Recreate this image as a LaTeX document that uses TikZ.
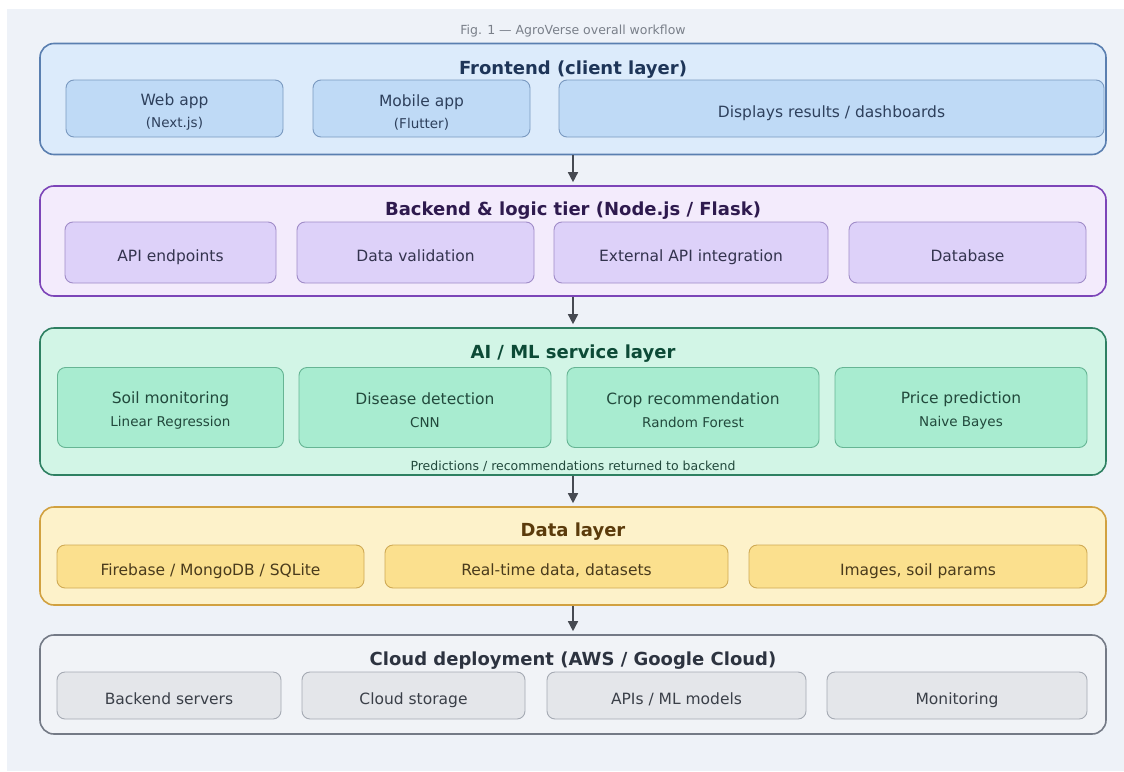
\documentclass[tikz,border=0pt]{standalone}
\usepackage{fontspec}
\setmainfont{DejaVu Sans}
\usetikzlibrary{arrows.meta}

% palette
\definecolor{pagebg}{HTML}{EEF2F8}
\definecolor{capgray}{HTML}{7A808A}
\definecolor{flowgray}{HTML}{464A52}
% frontend
\definecolor{feFill}{HTML}{DCEBFB}\definecolor{feLine}{HTML}{5A7FB0}
\definecolor{feBox}{HTML}{BFDAF6}\definecolor{feBoxLine}{HTML}{7A99C0}
\definecolor{feHead}{HTML}{1E3558}\definecolor{feText}{HTML}{2E405C}
% backend
\definecolor{beFill}{HTML}{F3EBFC}\definecolor{beLine}{HTML}{7C45B8}
\definecolor{beBox}{HTML}{DDD1F9}\definecolor{beBoxLine}{HTML}{A08CC8}
\definecolor{beHead}{HTML}{2E1A4E}\definecolor{beText}{HTML}{33334E}
% AI / ML
\definecolor{aiFill}{HTML}{D2F5E6}\definecolor{aiLine}{HTML}{2E8062}
\definecolor{aiBox}{HTML}{A8ECD0}\definecolor{aiBoxLine}{HTML}{66B594}
\definecolor{aiHead}{HTML}{0C4A36}\definecolor{aiText}{HTML}{22493C}
% data
\definecolor{dtFill}{HTML}{FDF2CA}\definecolor{dtLine}{HTML}{D1A140}
\definecolor{dtBox}{HTML}{FBE08E}\definecolor{dtBoxLine}{HTML}{CFAA55}
\definecolor{dtHead}{HTML}{5B3B0B}\definecolor{dtText}{HTML}{4A3B1C}
% cloud
\definecolor{clFill}{HTML}{F1F3F7}\definecolor{clLine}{HTML}{747A86}
\definecolor{clBox}{HTML}{E4E6EA}\definecolor{clBoxLine}{HTML}{A5AAB3}
\definecolor{clHead}{HTML}{2D3340}\definecolor{clText}{HTML}{3A3F48}

% two-line box text: a title line over a smaller detail line
% (#1 = strut height that sets the block's vertical placement, #2 = gap)
\newcommand\twolines[4]{\rule{0pt}{#1}#3\\[#2]{\fontsize{13.5}{16}\selectfont #4}}

\tikzset{
  layer/.style 2 args={draw=#1, fill=#2, rounded corners=14pt,
    line width=1.6pt, inner sep=0pt},
  part/.style n args={3}{draw=#1, fill=#2, text=#3, rounded corners=8pt,
    line width=0.9pt, inner sep=0pt, align=center,
    font=\fontsize{15.5}{18}\selectfont},
  oneline/.style={text height=17pt, text depth=0pt},
  heading/.style={font=\bfseries\fontsize{18}{21}\selectfont, text=#1,
    inner sep=0pt, text height=13.5pt, text depth=4pt},
  feBoxS/.style={part={feBoxLine}{feBox}{feText}, minimum height=57pt},
  beBoxS/.style={part={beBoxLine}{beBox}{beText}, minimum height=61pt, oneline},
  aiBoxS/.style={part={aiBoxLine}{aiBox}{aiText}, minimum height=80pt},
  dtBoxS/.style={part={dtBoxLine}{dtBox}{dtText}, minimum height=43pt, oneline},
  clBoxS/.style={part={clBoxLine}{clBox}{clText}, minimum height=47pt, oneline},
  flow/.style={draw=flowgray, line width=1.5pt,
    -{Triangle[width=10pt,length=10pt]}, shorten >=3pt}
}

\begin{document}
\begin{tikzpicture}[x=1pt, y=-1pt]
  \useasboundingbox (0,0) rectangle (1124,771);
  \fill[pagebg] (7,9) rectangle (1124,771);

  % caption
  \node[text=capgray, font=\fontsize{12.5}{15}\selectfont, inner sep=0pt]
    (cap) at (573,31.5) {Fig. 1 — AgroVerse overall workflow};

  % ---- Frontend ----
  \node[layer={feLine}{feFill}, minimum width=1066pt, minimum height=111pt]
    (fe) at (573,99) {};
  \node[heading=feHead] (feT) at (573,69.5) {Frontend (client layer)};
  \node[feBoxS, minimum width=217pt] (web) at (174.5,108.5)
    {\twolines{19pt}{4pt}{Web app}{(Next.js)}};
  \node[feBoxS, minimum width=217pt] (mob) at (421.5,108.5)
    {\twolines{19pt}{4pt}{Mobile app}{(Flutter)}};
  \node[feBoxS, oneline, minimum width=545pt] (disp) at (831.5,108.5)
    {Displays results / dashboards};

  % ---- Backend ----
  \node[layer={beLine}{beFill}, minimum width=1066pt, minimum height=110pt]
    (be) at (573,241) {};
  \node[heading=beHead] (beT) at (573,210.5)
    {Backend \& logic tier (Node.js / Flask)};
  \node[beBoxS, minimum width=211pt] (api) at (170.5,252.5) {API endpoints};
  \node[beBoxS, minimum width=237pt] (val) at (415.5,252.5) {Data validation};
  \node[beBoxS, minimum width=274pt] (ext) at (691,252.5) {External API integration};
  \node[beBoxS, minimum width=237pt] (db) at (967.5,252.5) {Database};

  % ---- AI / ML ----
  \node[layer={aiLine}{aiFill}, minimum width=1066pt, minimum height=147pt]
    (ai) at (573,401.5) {};
  \node[heading=aiHead] (aiT) at (573,353.5) {AI / ML service layer};
  \node[aiBoxS, minimum width=226pt] (soil) at (170.5,407.5)
    {\twolines{17pt}{5pt}{Soil monitoring}{Linear Regression}};
  \node[aiBoxS, minimum width=252pt] (dis) at (425,407.5)
    {\twolines{17pt}{5pt}{Disease detection}{CNN}};
  \node[aiBoxS, minimum width=252pt] (crop) at (693,407.5)
    {\twolines{17pt}{5pt}{Crop recommendation}{Random Forest}};
  \node[aiBoxS, minimum width=252pt] (price) at (961,407.5)
    {\twolines{17pt}{5pt}{Price prediction}{Naive Bayes}};
  \node[text=aiText, font=\fontsize{12.5}{15}\selectfont, inner sep=0pt]
    (aiNote) at (573,466.5) {Predictions / recommendations returned to backend};

  % ---- Data ----
  \node[layer={dtLine}{dtFill}, minimum width=1066pt, minimum height=98pt]
    (dt) at (573,556) {};
  \node[heading=dtHead] (dtT) at (573,531.5) {Data layer};
  \node[dtBoxS, minimum width=307pt] (fire) at (210.5,566.5)
    {Firebase / MongoDB / SQLite};
  \node[dtBoxS, minimum width=343pt] (rt) at (556.5,566.5)
    {Real-time data, datasets};
  \node[dtBoxS, minimum width=338pt] (img) at (918,566.5)
    {Images, soil params};

  % ---- Cloud ----
  \node[layer={clLine}{clFill}, minimum width=1066pt, minimum height=99pt]
    (cl) at (573,684.5) {};
  \node[heading=clHead] (clT) at (573,660.5)
    {Cloud deployment (AWS / Google Cloud)};
  \node[clBoxS, minimum width=224pt] (srv) at (169,695.5) {Backend servers};
  \node[clBoxS, minimum width=223pt] (stor) at (413.5,695.5) {Cloud storage};
  \node[clBoxS, minimum width=259pt] (mdl) at (676.5,695.5) {APIs / ML models};
  \node[clBoxS, minimum width=260pt] (mon) at (957,695.5) {Monitoring};

  % ---- flow between layers ----
  \draw[flow] (fe.south) -- (be.north);
  \draw[flow] (be.south) -- (ai.north);
  \draw[flow] (ai.south) -- (dt.north);
  \draw[flow] (dt.south) -- (cl.north);
\end{tikzpicture}
\end{document}
